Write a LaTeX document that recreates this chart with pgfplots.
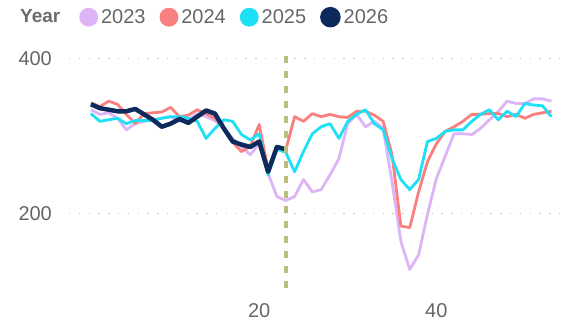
\documentclass[border=0pt]{standalone}
\usepackage{pgfplots}
\pgfplotsset{compat=1.18}
\usepackage{fontspec}
\setmainfont{Liberation Sans}
\definecolor{c23}{HTML}{DDB4F6}
\definecolor{c24}{HTML}{FA8080}
\definecolor{c25}{HTML}{1DE0F7}
\definecolor{c26}{HTML}{0C2A5C}
\definecolor{olv}{HTML}{B9BE7C}
\definecolor{txt}{HTML}{666666}
\begin{document}
\begin{tikzpicture}[x=1pt,y=1pt]
\useasboundingbox (0,0) rectangle (563,323);
\begin{axis}[at={(78,41)}, anchor=south west, scale only axis,
  width=493pt, height=235pt,
  xmin=-1.47, xmax=54.2, ymin=100, ymax=403,
  axis line style={draw=none}, tick style={draw=none},
  xtick={20,40}, ytick={200,400},
  ymajorgrids, grid style={color=gray!45, line width=1.4pt, dash pattern=on 1.4pt off 8.4pt},
  /pgf/number format/assume math mode=true,
  ticklabel style={font=\fontsize{20}{23}\selectfont, text=txt},
  yticklabel style={inner sep=0pt, xshift=-17pt},
  xticklabel style={inner sep=0pt, yshift=-12pt},
  clip=false,
  legend columns=4,
  legend style={draw=none, fill=none, at={(0.0203,1.166)}, anchor=west,
    font=\fontsize{20}{23}\selectfont, text=txt, inner sep=0pt,
    nodes={inner xsep=3pt, inner ysep=0pt},
    /tikz/every even column/.append style={column sep=11pt}},
  legend image code/.code={\fill[#1] (8pt,0pt) circle (8pt);},
]
\addplot[c23, line width=2.8pt, line join=round] coordinates {
(1,334)(2,328)(3,330)(4,323)(5,308)(6,316)(7,319)(8,321)(9,323)(10,325)
(11,319)(12,321)(13,329)(14,325)(15,320)(16,310)(17,297)(18,286)(19,276)(20,290)
(21,252)(22,222)(23,217)(24,222)(25,244)(26,228)(27,231)(28,250)(29,271)(30,316)
(31,328)(32,312)(33,319)(34,310)(35,241)(36,164)(37,128)(38,147)(39,199)(40,245)
(41,274)(42,303)(43,303)(44,302)(45,310)(46,321)(47,332)(48,345)(49,342)(50,342)
(51,348)(52,348)(53,345)};
\addlegendentry{2023}
\addplot[c24, line width=2.8pt, line join=round] coordinates {
(1,343)(2,338)(3,345)(4,341)(5,328)(6,316)(7,329)(8,330)(9,331)(10,337)
(11,325)(12,327)(13,334)(14,329)(15,323)(16,310)(17,292)(18,280)(19,287)(20,315)
(21,257)(22,284)(23,282)(24,325)(25,319)(26,329)(27,325)(28,328)(29,325)(30,324)
(31,332)(32,332)(33,327)(34,319)(35,276)(36,184)(37,182)(38,228)(39,267)(40,290)
(41,306)(42,312)(43,319)(44,328)(45,328)(46,329)(47,329)(48,325)(49,328)(50,323)
(51,328)(52,330)(53,332)};
\addlegendentry{2024}
\addplot[c25, line width=2.8pt, line join=round] coordinates {
(1,329)(2,319)(3,321)(4,323)(5,316)(6,320)(7,320)(8,320)(9,323)(10,325)
(11,325)(12,323)(13,319)(14,297)(15,310)(16,321)(17,319)(18,302)(19,295)(20,303)
(21,250)(22,283)(23,279)(24,254)(25,280)(26,303)(27,312)(28,316)(29,297)(30,319)
(31,328)(32,334)(33,316)(34,308)(35,271)(36,244)(37,231)(38,244)(39,293)(40,297)
(41,306)(42,308)(43,308)(44,319)(45,328)(46,334)(47,321)(48,332)(49,325)(50,342)
(51,340)(52,339)(53,325)};
\addlegendentry{2025}
\addplot[c26, line width=4.5pt, line join=round] coordinates {
(1,341)(2,336)(3,334)(4,332)(5,332)(6,335)(7,328)(8,321)(9,312)(10,316)
(11,322)(12,317)(13,325)(14,333)(15,329)(16,310)(17,293)(18,289)(19,286)(20,293)
(21,254)(22,286)(23,283)};
\addlegendentry{2026}
\addplot[olv, line width=4pt, dash pattern=on 7pt off 8pt, forget plot] coordinates {(23,403)(23,100)};
\end{axis}
\node[anchor=west, font=\fontsize{19}{22}\selectfont\bfseries, text=gray!85!black, inner sep=0pt] at (20,307) {Year};
\end{tikzpicture}
\end{document}
